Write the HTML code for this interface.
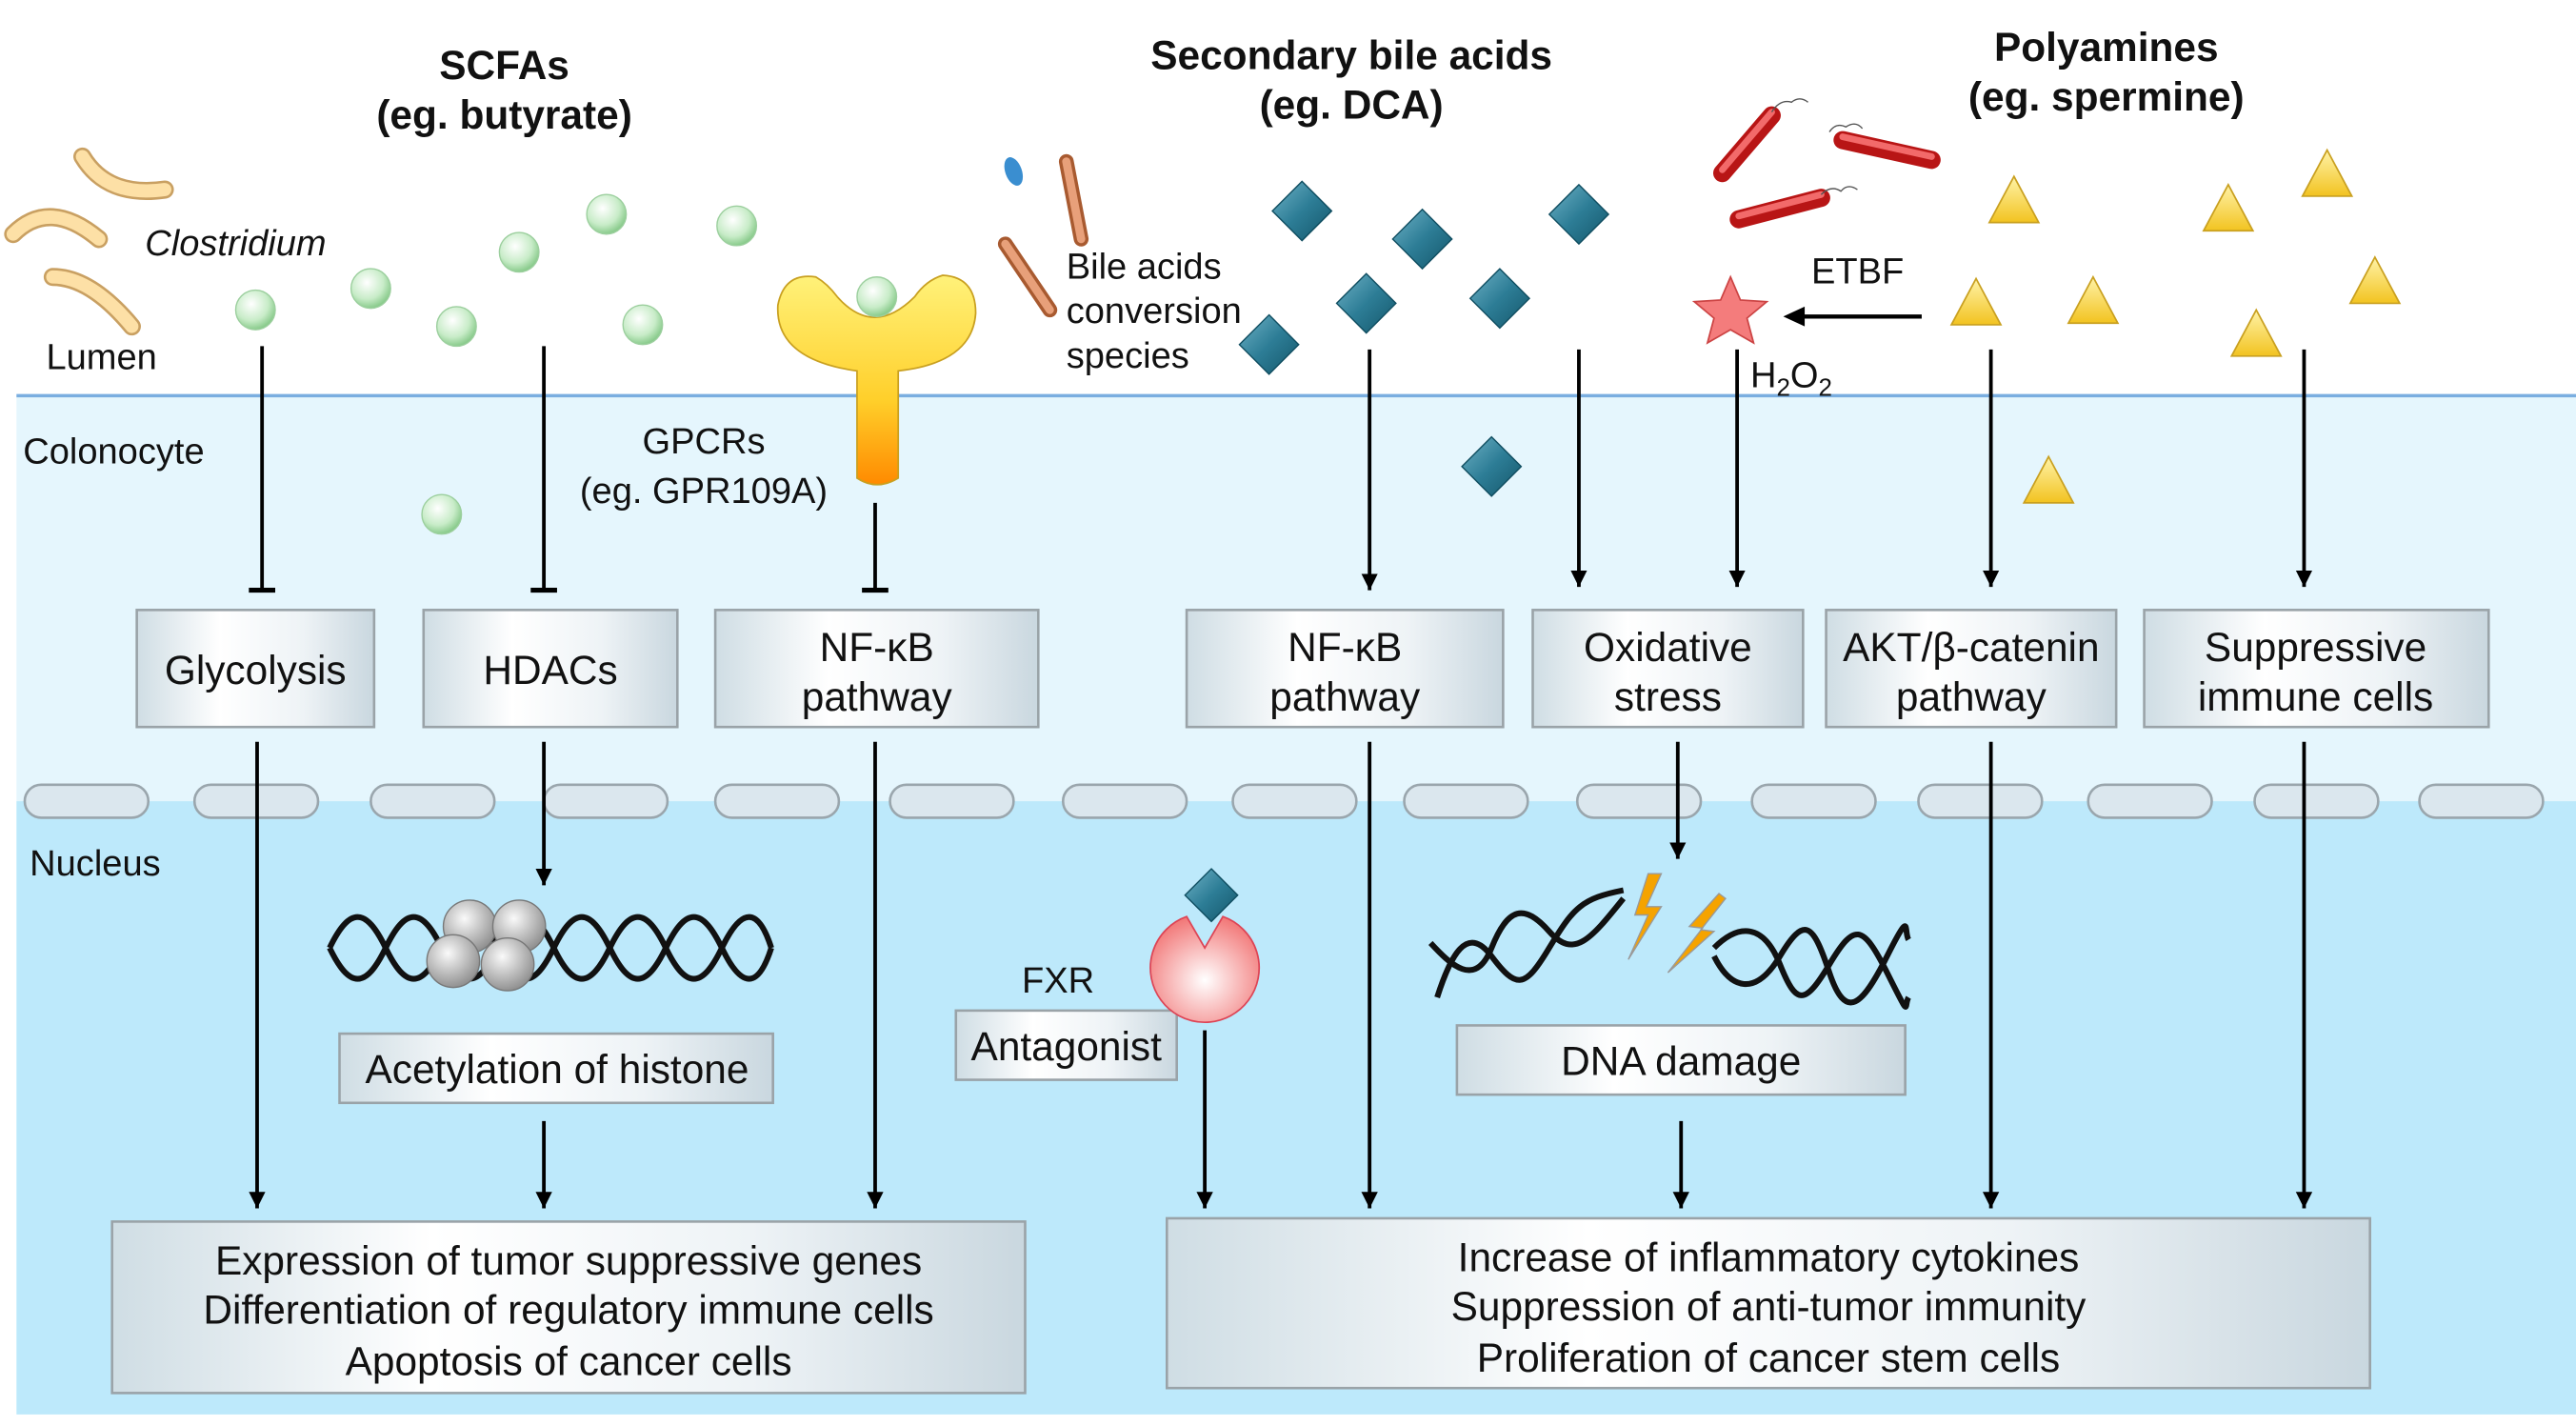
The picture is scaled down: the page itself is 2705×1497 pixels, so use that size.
<!DOCTYPE html>
<html><head><meta charset="utf-8"><style>
html,body{margin:0;padding:0;background:#fff}
svg{display:block}
text{font-family:"Liberation Sans",sans-serif;fill:#111}
.b{font-weight:bold;font-size:24.5px}
.l{font-size:22px}
.t{font-size:24.5px}
</style></head><body>
<svg width="2705" height="1497" viewBox="0 0 1563 865" preserveAspectRatio="none" xmlns="http://www.w3.org/2000/svg">
<defs>
<linearGradient id="bx" x1="0" x2="1" y1="0" y2="0"><stop offset="0" stop-color="#cfdde4"/><stop offset="0.35" stop-color="#ffffff"/><stop offset="0.7" stop-color="#eef3f6"/><stop offset="1" stop-color="#c9d7df"/></linearGradient>
<radialGradient id="gs" cx="0.4" cy="0.35" r="0.7"><stop offset="0" stop-color="#ffffff"/><stop offset="0.6" stop-color="#c8ecc8"/><stop offset="1" stop-color="#7cc47f"/></radialGradient>
<linearGradient id="dm" x1="0" y1="0" x2="1" y2="1"><stop offset="0" stop-color="#6fb2c6"/><stop offset="0.5" stop-color="#2d7d96"/><stop offset="1" stop-color="#14566a"/></linearGradient>
<linearGradient id="tr" x1="0" y1="0" x2="0" y2="1"><stop offset="0" stop-color="#fff3a8"/><stop offset="1" stop-color="#f2c320"/></linearGradient>
<linearGradient id="gp" x1="0" y1="0" x2="0" y2="1"><stop offset="0" stop-color="#fff27a"/><stop offset="0.6" stop-color="#ffcf2a"/><stop offset="1" stop-color="#ff8a00"/></linearGradient>
<radialGradient id="fx" cx="0.5" cy="0.6" r="0.6"><stop offset="0" stop-color="#ffffff"/><stop offset="1" stop-color="#f27a7a"/></radialGradient>
<radialGradient id="hs" cx="0.4" cy="0.35" r="0.7"><stop offset="0" stop-color="#fafafa"/><stop offset="1" stop-color="#8a8a8a"/></radialGradient>
<marker id="ar" markerWidth="12" markerHeight="12" refX="10" refY="5" orient="auto" markerUnits="userSpaceOnUse"><path d="M0,0 L10,5 L0,10 Z" fill="#000"/></marker>
</defs>
<rect x="10" y="240" width="1553" height="246" fill="#e5f6fd"/>
<rect x="10" y="486" width="1553" height="372" fill="#bde9fb"/>
<line x1="10" y1="240" x2="1563" y2="240" stroke="#7aaee0" stroke-width="2"/>
<g fill="#dbe7ee" stroke="#9aa6ad" stroke-width="1.5">
<rect x="15" y="476" width="75" height="20" rx="10"/><rect x="118" y="476" width="75" height="20" rx="10"/><rect x="225" y="476" width="75" height="20" rx="10"/><rect x="330" y="476" width="75" height="20" rx="10"/><rect x="434" y="476" width="75" height="20" rx="10"/><rect x="540" y="476" width="75" height="20" rx="10"/><rect x="645" y="476" width="75" height="20" rx="10"/><rect x="748" y="476" width="75" height="20" rx="10"/><rect x="852" y="476" width="75" height="20" rx="10"/><rect x="957" y="476" width="75" height="20" rx="10"/><rect x="1063" y="476" width="75" height="20" rx="10"/><rect x="1164" y="476" width="75" height="20" rx="10"/><rect x="1267" y="476" width="75" height="20" rx="10"/><rect x="1368" y="476" width="75" height="20" rx="10"/><rect x="1468" y="476" width="75" height="20" rx="10"/>
</g>
<text class="b" x="306" y="48" text-anchor="middle">SCFAs</text>
<text class="b" x="306" y="78" text-anchor="middle">(eg. butyrate)</text>
<text class="b" x="820" y="42" text-anchor="middle">Secondary bile acids</text>
<text class="b" x="820" y="72" text-anchor="middle">(eg. DCA)</text>
<text class="b" x="1278" y="37" text-anchor="middle">Polyamines</text>
<text class="b" x="1278" y="67" text-anchor="middle">(eg. spermine)</text>
<text class="l" x="88" y="155" font-style="italic">Clostridium</text>
<text class="l" x="28" y="224">Lumen</text>
<text class="l" x="14" y="281">Colonocyte</text>
<text class="l" x="18" y="531">Nucleus</text>
<text class="l" x="427" y="275" text-anchor="middle" font-size="23">GPCRs</text>
<text class="l" x="427" y="305" text-anchor="middle" font-size="23">(eg. GPR109A)</text>
<text class="l" x="647" y="169">Bile acids</text>
<text class="l" x="647" y="196">conversion</text>
<text class="l" x="647" y="223">species</text>
<text class="l" x="1099" y="172">ETBF</text>
<text class="l" x="1062" y="235" font-size="22">H<tspan font-size="15" dy="5">2</tspan><tspan dy="-5">O</tspan><tspan font-size="15" dy="5">2</tspan></text>
<text class="l" x="620" y="602">FXR</text>
<g fill="none" stroke-linecap="round">
<g stroke="#c9a062" stroke-width="11"><path d="M50,95 Q65,120 100,115"/><path d="M8,142 Q30,120 60,145"/><path d="M32,168 Q55,168 80,198"/></g>
<g stroke="#fde0a6" stroke-width="8"><path d="M50,95 Q65,120 100,115"/><path d="M8,142 Q30,120 60,145"/><path d="M32,168 Q55,168 80,198"/></g>
</g>
<ellipse cx="615" cy="104" rx="5" ry="9" fill="#3a8ed0" transform="rotate(-20 615 104)"/>
<line x1="647" y1="98" x2="656" y2="145" stroke="#a85a30" stroke-width="9" stroke-linecap="round"/>
<line x1="647" y1="98" x2="656" y2="145" stroke="#e8a07a" stroke-width="5" stroke-linecap="round"/>
<line x1="610" y1="148" x2="637" y2="188" stroke="#a85a30" stroke-width="9" stroke-linecap="round"/>
<line x1="610" y1="148" x2="637" y2="188" stroke="#e8a07a" stroke-width="5" stroke-linecap="round"/>
<g fill="url(#gs)" stroke="#9ccf9e" stroke-width="0.8">
<circle cx="155" cy="188" r="12"/><circle cx="225" cy="175" r="12"/><circle cx="277" cy="198" r="12"/><circle cx="315" cy="153" r="12"/><circle cx="368" cy="130" r="12"/><circle cx="390" cy="197" r="12"/><circle cx="447" cy="137" r="12"/><circle cx="268" cy="312" r="12"/>
</g>
<path d="M520,290 L520,225 Q470,218 472,185 Q476,165 495,168 Q502,172 508,180 Q530,205 555,180 Q562,170 572,167 Q592,168 592,190 Q590,220 545,225 L545,290 Q532,298 520,290 Z" fill="url(#gp)" stroke="#c9a020" stroke-width="1"/>
<circle cx="532" cy="180" r="12" fill="url(#gs)" stroke="#9ccf9e" stroke-width="0.8"/>
<g fill="url(#dm)" stroke="#0f4d60" stroke-width="0.8">
<path d="M790,110 L808,128 L790,146 L772,128Z"/><path d="M863,127 L881,145 L863,163 L845,145Z"/><path d="M958,112 L976,130 L958,148 L940,130Z"/><path d="M829,166 L847,184 L829,202 L811,184Z"/><path d="M910,163 L928,181 L910,199 L892,181Z"/><path d="M770,191 L788,209 L770,227 L752,209Z"/><path d="M905,265 L923,283 L905,301 L887,283Z"/><path d="M735,527 L751,543 L735,559 L719,543Z"/>
</g>
<g fill="url(#tr)" stroke="#c9a020" stroke-width="1">
<path d="M1222,107 L1237,135 L1207,135Z"/><path d="M1352,112 L1367,140 L1337,140Z"/><path d="M1412,91 L1427,119 L1397,119Z"/><path d="M1199,169 L1214,197 L1184,197Z"/><path d="M1270,168 L1285,196 L1255,196Z"/><path d="M1441,156 L1456,184 L1426,184Z"/><path d="M1369,188 L1384,216 L1354,216Z"/><path d="M1243,277 L1258,305 L1228,305Z"/>
</g>
<g stroke-linecap="round">
<line x1="1045" y1="105" x2="1075" y2="70" stroke="#b81515" stroke-width="11"/>
<line x1="1118" y1="85" x2="1172" y2="97" stroke="#b81515" stroke-width="11"/>
<line x1="1055" y1="133" x2="1105" y2="120" stroke="#b81515" stroke-width="11"/>
<line x1="1045" y1="103" x2="1075" y2="68" stroke="#f26a6a" stroke-width="4"/>
<line x1="1118" y1="83" x2="1172" y2="95" stroke="#f26a6a" stroke-width="4"/>
<line x1="1055" y1="131" x2="1105" y2="118" stroke="#f26a6a" stroke-width="4"/>
</g>
<g fill="none" stroke="#555" stroke-width="0.8"><path d="M1075,68 q5,-8 12,-6 q5,-4 10,0"/><path d="M1110,80 q4,-6 10,-3 q6,-4 10,1"/><path d="M1105,118 q6,-6 12,-2 q4,-5 10,-1"/></g>
<path d="M1050,168 L1056,182 L1072,183 L1060,193 L1064,208 L1050,200 L1036,208 L1040,193 L1028,183 L1044,182Z" fill="#f47c7c" stroke="#c44" stroke-width="1"/>
<line x1="1166" y1="192" x2="1092" y2="192" stroke="#000" stroke-width="2.5"/>
<path d="M1082,192 L1095,186 L1095,198Z" fill="#000"/>
<g stroke="#000" stroke-width="2.2" fill="none">
<line x1="159" y1="210" x2="159" y2="358"/><line x1="151" y1="358" x2="167" y2="358" stroke-width="3"/>
<line x1="330" y1="210" x2="330" y2="358"/><line x1="322" y1="358" x2="338" y2="358" stroke-width="3"/>
<line x1="531" y1="305" x2="531" y2="358"/><line x1="523" y1="358" x2="539" y2="358" stroke-width="3"/>
<g marker-end="url(#ar)">
<line x1="831" y1="212" x2="831" y2="358"/><line x1="958" y1="212" x2="958" y2="356"/><line x1="1054" y1="212" x2="1054" y2="356"/><line x1="1208" y1="212" x2="1208" y2="356"/><line x1="1398" y1="212" x2="1398" y2="356"/>
<line x1="156" y1="450" x2="156" y2="733"/><line x1="330" y1="450" x2="330" y2="537"/><line x1="330" y1="680" x2="330" y2="733"/><line x1="531" y1="450" x2="531" y2="733"/><line x1="731" y1="625" x2="731" y2="733"/><line x1="831" y1="450" x2="831" y2="733"/><line x1="1018" y1="450" x2="1018" y2="521"/><line x1="1020" y1="680" x2="1020" y2="733"/><line x1="1208" y1="450" x2="1208" y2="733"/><line x1="1398" y1="450" x2="1398" y2="733"/>
</g>
</g>
<g fill="url(#bx)" stroke="#9aa3a8" stroke-width="1.5">
<rect x="83" y="370" width="144" height="71"/><rect x="257" y="370" width="154" height="71"/><rect x="434" y="370" width="196" height="71"/>
<rect x="720" y="370" width="192" height="71"/><rect x="930" y="370" width="164" height="71"/><rect x="1108" y="370" width="176" height="71"/><rect x="1301" y="370" width="209" height="71"/>
<rect x="206" y="627" width="263" height="42"/><rect x="580" y="613" width="134" height="42"/><rect x="884" y="622" width="272" height="42"/>
<rect x="68" y="741" width="554" height="104"/><rect x="708" y="739" width="730" height="103"/>
</g>
<g text-anchor="middle">
<text class="t" x="155" y="415">Glycolysis</text>
<text class="t" x="334" y="415">HDACs</text>
<text class="t" x="532" y="401">NF-κB</text><text class="t" x="532" y="431">pathway</text>
<text class="t" x="816" y="401">NF-κB</text><text class="t" x="816" y="431">pathway</text>
<text class="t" x="1012" y="401">Oxidative</text><text class="t" x="1012" y="431">stress</text>
<text class="t" x="1196" y="401">AKT/β-catenin</text><text class="t" x="1196" y="431">pathway</text>
<text class="t" x="1405" y="401">Suppressive</text><text class="t" x="1405" y="431">immune cells</text>
<text class="t" x="338" y="657">Acetylation of histone</text>
<text class="t" x="647" y="643">Antagonist</text>
<text class="t" x="1020" y="652">DNA damage</text>
<text class="t" x="345" y="773">Expression of tumor suppressive genes</text>
<text class="t" x="345" y="803">Differentiation of regulatory immune cells</text>
<text class="t" x="345" y="834">Apoptosis of cancer cells</text>
<text class="t" x="1073" y="771">Increase of inflammatory cytokines</text>
<text class="t" x="1073" y="801">Suppression of anti-tumor immunity</text>
<text class="t" x="1073" y="832">Proliferation of cancer stem cells</text>
</g>
<g fill="none" stroke="#111" stroke-width="3.5">
<path d="M200,575 C212,550 222,550 234,575 S256,600 268,575 S290,550 302,575 S324,600 336,575 S358,550 370,575 S392,600 404,575 S426,550 438,575 S460,600 468,575"/>
<path d="M200,575 C212,600 222,600 234,575 S256,550 268,575 S290,600 302,575 S324,550 336,575 S358,600 370,575 S392,550 404,575 S426,600 438,575 S460,550 468,575"/>
</g>
<g fill="url(#hs)" stroke="#777" stroke-width="0.8">
<circle cx="285" cy="562" r="16"/><circle cx="315" cy="562" r="16"/><circle cx="275" cy="583" r="16"/><circle cx="308" cy="585" r="16"/>
</g>
<path d="M720,556 L731,575 L742,556 A33,33 0 1 1 720,556 Z" fill="url(#fx)" stroke="#d45" stroke-width="1"/>
<g fill="none" stroke="#111" stroke-width="3.5">
<path d="M868,572 C880,585 895,600 905,575 S925,548 940,565 S965,570 985,545"/>
<path d="M872,605 C880,580 890,560 905,580 S925,600 940,575 S960,545 985,540"/>
<path d="M1040,575 C1055,560 1070,560 1080,585 S1095,610 1110,585 S1130,560 1145,590 S1155,610 1158,605"/>
<path d="M1040,580 C1050,600 1065,605 1080,580 S1100,560 1110,590 S1130,610 1145,580 S1155,565 1158,570"/>
</g>
<path d="M1000,530 L992,555 L1000,555 L988,582 L1008,550 L999,550 L1008,530Z" fill="#f5a300" stroke="#999" stroke-width="0.8"/>
<path d="M1043,542 L1025,562 L1033,563 L1012,590 L1040,565 L1032,564 L1047,545Z" fill="#f5a300" stroke="#999" stroke-width="0.8"/>
</svg>
</body></html>
